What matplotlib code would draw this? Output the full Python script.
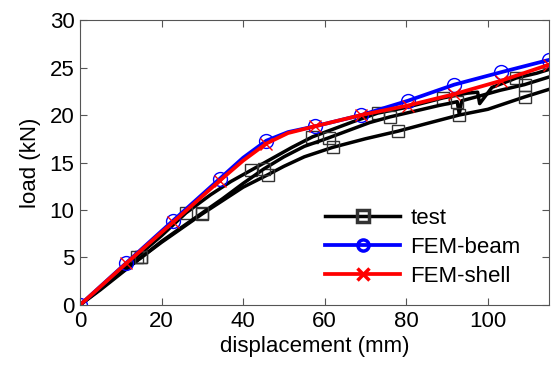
import matplotlib
matplotlib.use("Agg")
import matplotlib.pyplot as plt

plt.rcParams['font.family'] = ['Liberation Sans', 'DejaVu Sans']

# test curves (three specimens)
test_a_x = [0, 5, 10, 15, 20, 25, 30, 35, 40, 46, 50, 55, 62, 70, 78, 85, 93, 100, 109, 115]
test_a_y = [0, 1.6, 3.3, 5.0, 6.6, 8.1, 9.6, 11.0, 12.4, 13.7, 14.6, 15.6, 16.6, 17.5, 18.3, 19.1, 20.0, 20.6, 21.9, 22.7]
test_a_mk = [3, 6, 9, 12, 14, 16, 18]

test_b_x = [0, 5, 10, 14, 20, 26, 32, 37, 42, 47, 52, 57, 62, 67, 73, 80, 89, 95, 97.5, 98, 101, 107, 112, 115]
test_b_y = [0, 1.8, 3.6, 5.1, 7.3, 9.7, 11.6, 13.0, 14.2, 15.4, 16.6, 17.7, 18.5, 19.3, 20.2, 20.8, 21.8, 22.3, 22.4, 21.2, 22.9, 23.9, 24.4, 24.8]
test_b_mk = [3, 5, 8, 11, 14, 16, 21]

test_c_x = [0, 5, 10, 15, 20, 25, 30, 35, 40, 45, 50, 55, 61, 66, 71, 76, 82, 88, 92.5, 93, 93.6, 98, 103, 109, 115]
test_c_y = [0, 1.7, 3.4, 5.0, 6.7, 8.2, 9.7, 11.2, 12.8, 14.3, 15.6, 16.7, 17.6, 18.4, 19.2, 19.8, 20.4, 21.0, 21.4, 20.1, 21.5, 22.0, 22.6, 23.2, 24.0]
test_c_mk = [3, 6, 9, 12, 15, 18, 23]

# FEM results
beam_x = [0, 11.4, 22.8, 34.3, 40, 45.7, 51, 57.5, 69, 80.4, 91.8, 103.2, 115]
beam_y = [0, 4.45, 8.87, 13.3, 15.5, 17.3, 18.2, 18.8, 20.0, 21.5, 23.2, 24.5, 25.8]
beam_mk = [0, 1, 2, 3, 5, 7, 8, 9, 10, 11, 12]

shell_x = [0, 11.4, 22.8, 34.3, 40, 45.7, 51, 57.5, 69, 80.4, 91.8, 103.2, 115]
shell_y = [0, 4.4, 8.7, 13.1, 15.2, 17.0, 18.1, 18.8, 20.0, 21.0, 22.2, 23.6, 25.3]
shell_mk = [0, 1, 2, 3, 5, 7, 8, 9, 10, 11, 12]

fig = plt.figure(figsize=(5.56, 3.82), dpi=100)
ax = fig.add_axes([0.1439, 0.2016, 0.8435, 0.746])

ax.plot(test_a_x, test_a_y, color='black', lw=2.5, marker='s', ms=9, mfc='none',
        mec='#333333', mew=1.0, markevery=test_a_mk, label='test')
ax.plot(test_b_x, test_b_y, color='black', lw=2.5, marker='s', ms=9, mfc='none',
        mec='#333333', mew=1.0, markevery=test_b_mk)
ax.plot(test_c_x, test_c_y, color='black', lw=2.5, marker='s', ms=9, mfc='none',
        mec='#333333', mew=1.0, markevery=test_c_mk)
ax.plot(beam_x, beam_y, color='blue', lw=2.7, marker='o', ms=10, mfc='none',
        mec='blue', mew=1.0, markevery=beam_mk, label='FEM-beam')
ax.plot(shell_x, shell_y, color='red', lw=2.7, marker='x', ms=9, mec='red',
        mew=1.0, markevery=shell_mk, label='FEM-shell')

ax.set_xlim(0, 115)
ax.set_ylim(0, 30)
ax.set_xticks([0, 20, 40, 60, 80, 100])
ax.set_yticks([0, 5, 10, 15, 20, 25, 30])
ax.tick_params(direction='in', top=True, right=True, labelsize=16, length=5,
               color='#555555', pad=4)
for s in ax.spines.values():
    s.set_color('#555555')
    s.set_linewidth(0.8)
ax.set_xlabel('displacement (mm)', fontsize=16, labelpad=3)
ax.set_ylabel('load (kN)', fontsize=16, labelpad=6)

leg = ax.legend(loc='upper left', frameon=False, fontsize=16, handlelength=3.4,
                bbox_to_anchor=(0.522, 0.342), borderaxespad=0, borderpad=0,
                labelspacing=0.36, handletextpad=0.45)
for h in leg.legend_handles:
    h.set_markeredgewidth(2.5)
    h.set_markersize(8)

fig.savefig('out.png', dpi=100)
